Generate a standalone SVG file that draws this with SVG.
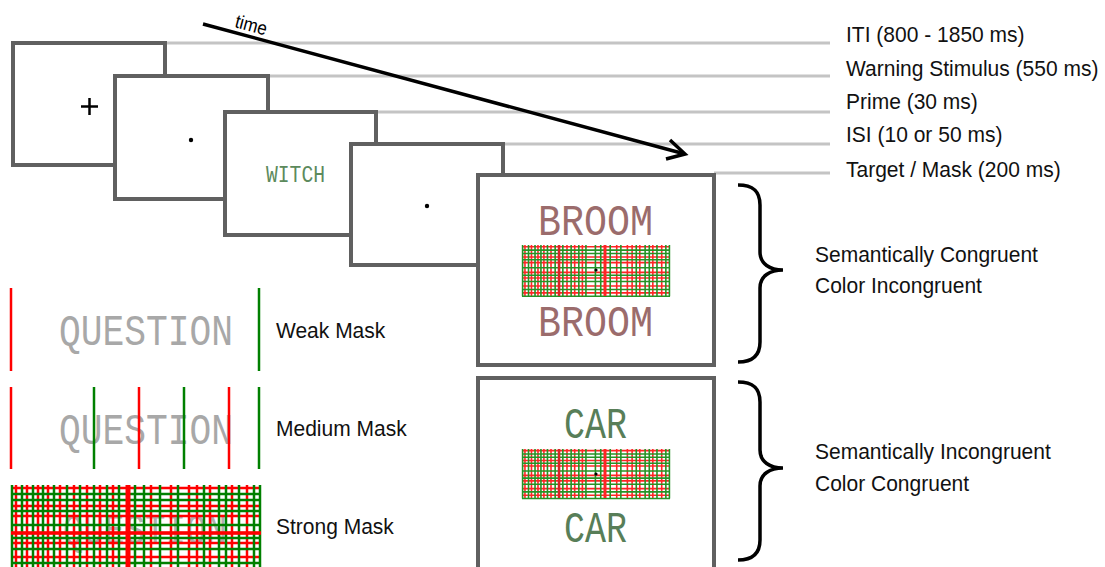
<svg xmlns="http://www.w3.org/2000/svg" width="1105" height="567" viewBox="0 0 1105 567">
<style>
.frame{fill:#fff;stroke:#606060;stroke-width:4}
.tl{stroke:#c4c4c4;stroke-width:3;fill:none}
.lbl{font-family:"Liberation Sans",Arial,sans-serif;font-size:22px;fill:#111}
.word{font-family:"Liberation Mono","DejaVu Sans Mono",monospace;font-size:45px}
.r{stroke:#ff0000}
.g{stroke:#008000}
.r line,.g line{vector-effect:non-scaling-stroke}
.brace{fill:none;stroke:#000;stroke-width:3.5}
</style>
<defs>
<g id="grid">
<g class="r">
<line x1="5" y1="0" x2="5" y2="90"/><line x1="16" y1="0" x2="16" y2="90"/><line x1="27" y1="0" x2="27" y2="90"/><line x1="37" y1="0" x2="37" y2="90"/><line x1="49" y1="0" x2="49" y2="90"/><line x1="63" y1="0" x2="63" y2="90"/><line x1="76" y1="0" x2="76" y2="90"/><line x1="89" y1="0" x2="89" y2="90"/><line x1="102" y1="0" x2="102" y2="90"/><line x1="140" y1="0" x2="140" y2="90"/><line x1="160" y1="0" x2="160" y2="90"/><line x1="178" y1="0" x2="178" y2="90"/><line x1="186" y1="0" x2="186" y2="90"/><line x1="199" y1="0" x2="199" y2="90"/><line x1="221" y1="0" x2="221" y2="90"/><line x1="236" y1="0" x2="236" y2="90"/>
<line x1="0" y1="3" x2="250" y2="3"/><line x1="0" y1="21" x2="250" y2="21"/><line x1="0" y1="31" x2="250" y2="31"/><line x1="0" y1="48" x2="250" y2="48"/><line x1="0" y1="58" x2="250" y2="58"/><line x1="0" y1="72" x2="250" y2="72"/><line x1="0" y1="84" x2="250" y2="84"/>
</g>
<g class="g">
<line x1="1" y1="0" x2="1" y2="90"/><line x1="11" y1="0" x2="11" y2="90"/><line x1="22" y1="0" x2="22" y2="90"/><line x1="32" y1="0" x2="32" y2="90"/><line x1="43" y1="0" x2="43" y2="90"/><line x1="56" y1="0" x2="56" y2="90"/><line x1="69" y1="0" x2="69" y2="90"/><line x1="83" y1="0" x2="83" y2="90"/><line x1="96" y1="0" x2="96" y2="90"/><line x1="108" y1="0" x2="108" y2="90"/><line x1="124" y1="0" x2="124" y2="90"/><line x1="133" y1="0" x2="133" y2="90"/><line x1="149" y1="0" x2="149" y2="90"/><line x1="167" y1="0" x2="167" y2="90"/><line x1="193" y1="0" x2="193" y2="90"/><line x1="208" y1="0" x2="208" y2="90"/><line x1="215" y1="0" x2="215" y2="90"/><line x1="228" y1="0" x2="228" y2="90"/><line x1="243" y1="0" x2="243" y2="90"/><line x1="249" y1="0" x2="249" y2="90"/>
<line x1="0" y1="9" x2="250" y2="9"/><line x1="0" y1="15" x2="250" y2="15"/><line x1="0" y1="26" x2="250" y2="26"/><line x1="0" y1="40" x2="250" y2="40"/><line x1="0" y1="53" x2="250" y2="53"/><line x1="0" y1="64" x2="250" y2="64"/><line x1="0" y1="78" x2="250" y2="78"/><line x1="0" y1="90" x2="250" y2="90"/>
</g>
</g>
</defs>

<g id="timeline-lines">
<line class="tl" x1="165" y1="43" x2="830" y2="43"/>
<line class="tl" x1="268" y1="76" x2="830" y2="76"/>
<line class="tl" x1="377" y1="112" x2="830" y2="112"/>
<line class="tl" x1="503" y1="144" x2="830" y2="144"/>
<line class="tl" x1="714" y1="173" x2="830" y2="173"/>
</g>

<g id="frame-iti">
<rect class="frame" x="13" y="43" width="152" height="122"/>
<line x1="81" y1="106.5" x2="98" y2="106.5" stroke="#000" stroke-width="2.5"/>
<line x1="89.5" y1="98" x2="89.5" y2="115" stroke="#000" stroke-width="2.5"/>
</g>
<g id="frame-warning">
<rect class="frame" x="115" y="76" width="153" height="123"/>
<circle cx="191" cy="140" r="2.2" fill="#000"/>
</g>
<g id="frame-prime">
<rect class="frame" x="225" y="112" width="151" height="123"/>
<text class="word" x="266" y="182" textLength="59" lengthAdjust="spacingAndGlyphs" fill="#5c8a5c" style="font-size:24px">WITCH</text>
</g>
<g id="frame-isi">
<rect class="frame" x="351" y="144" width="152" height="121"/>
<circle cx="427" cy="206" r="2.2" fill="#000"/>
</g>
<g id="frame-target1">
<rect class="frame" x="478" y="175" width="236" height="190"/>
<text class="word" x="538" y="235" textLength="115" lengthAdjust="spacingAndGlyphs" fill="#9b6c6c">BROOM</text>
<g opacity="0.85">
<use href="#grid" stroke-width="1.6" transform="translate(522,245) scale(0.592,0.57)"/>
<line x1="559" y1="245" x2="559" y2="296" stroke="#d00000" stroke-width="2.5"/>
<line x1="605" y1="245" x2="605" y2="296" stroke="#ff0000" stroke-width="3"/>
</g>
<circle cx="596" cy="270" r="1.6" fill="#000"/>
<text class="word" x="538" y="336" textLength="115" lengthAdjust="spacingAndGlyphs" fill="#9b6c6c">BROOM</text>
</g>
<g id="frame-target2">
<rect class="frame" x="478" y="378" width="236" height="210"/>
<text class="word" x="564" y="438" textLength="63" lengthAdjust="spacingAndGlyphs" fill="#587e58">CAR</text>
<g opacity="0.85">
<use href="#grid" stroke-width="1.6" transform="translate(522,449) scale(0.592,0.55)"/>
<line x1="559" y1="449" x2="559" y2="498" stroke="#d00000" stroke-width="2.5"/>
<line x1="605" y1="449" x2="605" y2="498" stroke="#ff0000" stroke-width="3"/>
</g>
<circle cx="596" cy="474" r="1.6" fill="#000"/>
<text class="word" x="564" y="542" textLength="63" lengthAdjust="spacingAndGlyphs" fill="#587e58">CAR</text>
</g>

<g id="connectors">
<line x1="203" y1="24" x2="683" y2="153.5" stroke="#000" stroke-width="3.5"/>
<polyline points="670,140 685,154 666,159" fill="none" stroke="#000" stroke-width="3.5" stroke-linejoin="miter"/>
<path class="brace" d="M738,185 C752,185 760,190 760,205 L760,252 C760,264 770,270 783,270 C770,270 760,276 760,288 L760,342 C760,356 752,362 738,362"/>
<path class="brace" d="M738,382 C752,382 760,387 760,402 L760,450 C760,462 770,468 783,468 C770,468 760,474 760,486 L760,540 C760,554 752,560 738,560"/>
</g>
<text x="234" y="27" transform="rotate(15 234 27) translate(234,0) scale(0.9,1) translate(-234,0)" style="font-family:'Liberation Sans',Arial,sans-serif;font-size:19px" fill="#000">time</text>

<g id="timing-labels" class="lbl">
<g transform="translate(846,0) scale(0.955,1)">
<text x="0" y="42">ITI (800 - 1850 ms)</text>
<text x="0" y="76">Warning Stimulus (550 ms)</text>
<text x="0" y="109">Prime (30 ms)</text>
<text x="0" y="142">ISI (10 or 50 ms)</text>
<text x="0" y="177">Target / Mask (200 ms)</text>
</g>
</g>

<g id="condition-labels" class="lbl">
<g transform="translate(815,0) scale(0.955,1)">
<text x="0" y="262">Semantically Congruent</text>
<text x="0" y="293">Color Incongruent</text>
<text x="0" y="459">Semantically Incongruent</text>
<text x="0" y="491">Color Congruent</text>
</g>
</g>

<g id="weak-mask">
<line x1="11" y1="288" x2="11" y2="371" stroke="#ff0000" stroke-width="2.5"/>
<text class="word" x="59" y="345" textLength="174" lengthAdjust="spacingAndGlyphs" fill="#a8a8a8">QUESTION</text>
<line x1="259" y1="288" x2="259" y2="371" stroke="#008000" stroke-width="2.5"/>
<text class="lbl" x="276" y="338" transform="translate(276,0) scale(0.955,1) translate(-276,0)">Weak Mask</text>
</g>
<g id="medium-mask">
<text class="word" x="59" y="444" textLength="174" lengthAdjust="spacingAndGlyphs" fill="#a8a8a8">QUESTION</text>
<line x1="11" y1="387" x2="11" y2="469" stroke="#ff0000" stroke-width="2.5"/>
<line x1="94" y1="387" x2="94" y2="469" stroke="#008000" stroke-width="2.5"/>
<line x1="139" y1="387" x2="139" y2="469" stroke="#ff0000" stroke-width="2.5"/>
<line x1="184" y1="387" x2="184" y2="469" stroke="#008000" stroke-width="2.5"/>
<line x1="229" y1="387" x2="229" y2="469" stroke="#ff0000" stroke-width="2.5"/>
<line x1="259" y1="387" x2="259" y2="469" stroke="#008000" stroke-width="2.5"/>
<text class="lbl" x="276" y="436" transform="translate(276,0) scale(0.955,1) translate(-276,0)">Medium Mask</text>
</g>
<g id="strong-mask">
<text class="word" x="63" y="544" textLength="164" lengthAdjust="spacingAndGlyphs" fill="#b0b0b0">QUESTION</text>
<use href="#grid" stroke-width="2.5" transform="translate(11,485)"/>
<line x1="128" y1="485" x2="128" y2="567" stroke="#ff0000" stroke-width="5"/>
<line x1="11" y1="533" x2="261" y2="533" stroke="#ff0000" stroke-width="3.5"/>
<text class="lbl" x="276" y="534" transform="translate(276,0) scale(0.955,1) translate(-276,0)">Strong Mask</text>
</g>
</svg>
